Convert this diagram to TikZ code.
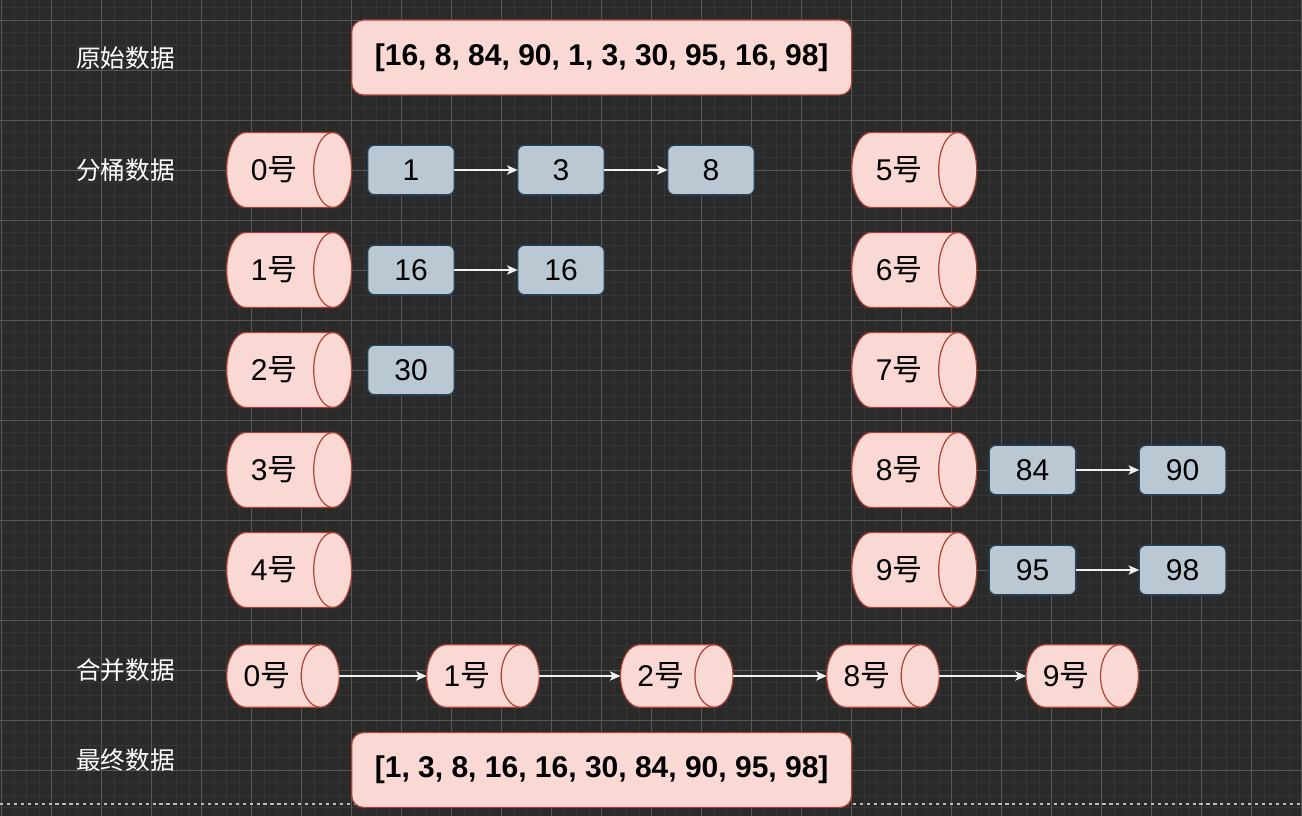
\documentclass[tikz,border=0pt]{standalone}
\usepackage{fontspec}
\setmainfont{Liberation Sans}
\newfontfamily\cjk{Noto Sans CJK SC}
\usetikzlibrary{arrows.meta}
\definecolor{bgc}{HTML}{2A2A2A}
\definecolor{gridminor}{HTML}{363636}
\definecolor{gridmajor}{HTML}{575757}
\definecolor{pinkfill}{HTML}{FAD9D5}
\definecolor{pinkline}{HTML}{AE4132}
\definecolor{bluefill}{HTML}{BAC8D3}
\definecolor{blueline}{HTML}{23445D}
\definecolor{arrowc}{HTML}{F0F0F0}
\definecolor{pagec}{HTML}{BDBDBD}
\tikzset{
  bigbox/.style={draw=pinkline, fill=pinkfill, line width=0.9pt, rounded corners=9pt,
    minimum width=375pt, minimum height=56.25pt, inner sep=0pt, outer sep=0pt,
    font=\bfseries\fontsize{22.5}{26}\selectfont, text=black},
  numbox/.style={draw=blueline, fill=bluefill, line width=0.9pt, rounded corners=5pt,
    minimum width=65pt, minimum height=37pt, inner sep=0pt, outer sep=0pt,
    font=\fontsize{22.5}{26}\selectfont, text=black},
  cylbody/.style={draw=pinkline, fill=pinkfill, line width=0.9pt},
  cylface/.style={draw=pinkline, line width=0.9pt},
  cylnode/.style={draw=none, inner sep=0pt, outer sep=0pt},
  cyltext/.style={inner sep=0pt, font=\fontsize{22.5}{26}\selectfont, text=black},
  sidelabel/.style={inner sep=0pt, font=\cjk\fontsize{18.5}{22}\selectfont, text=white},
  arr/.style={draw=arrowc, line width=1pt, -{Stealth[length=8pt, width=7pt, inset=2pt]}},
}
% name, x0, x1, yc, h, label, text shift
\newcommand\mycyl[7]{%
  \draw[cylbody] ({#2+19},{#4-#5/2}) -- ({#3-19},{#4-#5/2})
    arc[start angle=-90, end angle=90, x radius=19, y radius={#5/2}]
    -- ({#2+19},{#4+#5/2})
    arc[start angle=90, end angle=270, x radius=19, y radius={#5/2}] -- cycle;
  \draw[cylface] ({#3-19},{#4-#5/2})
    arc[start angle=-90, end angle=-270, x radius=19, y radius={#5/2}];
  \node[cylnode, minimum width={(#3-#2)*0.75pt}, minimum height={#5*0.75pt}] (#1) at ({(#2+#3)/2},#4) {};
  \node[cyltext] (#1t) at ({(#2+#3)/2-19+#7},#4) {#6{\cjk 号}};
}
\begin{document}
\begin{tikzpicture}[x=0.75pt, y=-0.75pt]
\useasboundingbox (0,0) rectangle (1302,816);
\fill[bgc] (0,0) rectangle (1302,816);
% grid
\foreach \i in {0,...,104} \draw[gridminor, line width=0.6pt] ({1.7+12.5*\i},0) -- ({1.7+12.5*\i},816);
\foreach \j in {0,...,65} \draw[gridminor, line width=0.6pt] (0,{7.5+12.5*\j}) -- (1302,{7.5+12.5*\j});
\foreach \i in {0,...,26} \draw[gridmajor, line width=0.7pt] ({1.7+50*\i},0) -- ({1.7+50*\i},816);
\foreach \j in {0,...,16} \draw[gridmajor, line width=0.7pt] (0,{20+50*\j}) -- (1302,{20+50*\j});
% page break line
\draw[pagec, line width=1.2pt, dash pattern=on 2.4pt off 2.8pt] (0,804) -- (1302,804);

% side labels
\node[sidelabel] (l1) at (125.5,58) {原始数据};
\node[sidelabel] (l2) at (125.5,170) {分桶数据};
\node[sidelabel] (l3) at (125.5,670) {合并数据};
\node[sidelabel] (l4) at (125.5,760) {最终数据};

% top and bottom data
\node[bigbox] (orig) at (601.7,57.5) {[16, 8, 84, 90, 1, 3, 30, 95, 16, 98]};
\node[bigbox] (final) at (601.7,770) {[1, 3, 8, 16, 16, 30, 84, 90, 95, 98]};

% buckets left
\mycyl{k0}{226.7}{351.7}{170}{75}{0}{4}
\mycyl{k1}{226.7}{351.7}{270}{75}{1}{4}
\mycyl{k2}{226.7}{351.7}{370}{75}{2}{4}
\mycyl{k3}{226.7}{351.7}{470}{75}{3}{4}
\mycyl{k4}{226.7}{351.7}{570}{75}{4}{4}
% buckets right
\mycyl{k5}{851.7}{976.7}{170}{75}{5}{4}
\mycyl{k6}{851.7}{976.7}{270}{75}{6}{4}
\mycyl{k7}{851.7}{976.7}{370}{75}{7}{4}
\mycyl{k8}{851.7}{976.7}{470}{75}{8}{4}
\mycyl{k9}{851.7}{976.7}{570}{75}{9}{4}

% bucket contents
\node[numbox] (a1) at (411,170) {1};
\node[numbox] (a2) at (561,170) {3};
\node[numbox] (a3) at (711,170) {8};
\node[numbox] (b1) at (411,270) {16};
\node[numbox] (b2) at (561,270) {16};
\node[numbox] (c1) at (411,370) {30};
\node[numbox] (d1) at (1032.5,470) {84};
\node[numbox] (d2) at (1182.5,470) {90};
\node[numbox] (e1) at (1032.5,570) {95};
\node[numbox] (e2) at (1182.5,570) {98};
\draw[arr] (a1.east) -- (a2.west);
\draw[arr] (a2.east) -- (a3.west);
\draw[arr] (b1.east) -- (b2.west);
\draw[arr] (d1.east) -- (d2.west);
\draw[arr] (e1.east) -- (e2.west);

% merge row
\mycyl{m0}{226.7}{339.2}{676}{62.5}{0}{3}
\mycyl{m1}{426.7}{539.2}{676}{62.5}{1}{3}
\mycyl{m2}{620.5}{733}{676}{62.5}{2}{3}
\mycyl{m8}{826.7}{939.2}{676}{62.5}{8}{3}
\mycyl{m9}{1026}{1138.5}{676}{62.5}{9}{3}
\draw[arr] (m0.east) -- (m1.west);
\draw[arr] (m1.east) -- (m2.west);
\draw[arr] (m2.east) -- (m8.west);
\draw[arr] (m8.east) -- (m9.west);
\end{tikzpicture}
\end{document}
